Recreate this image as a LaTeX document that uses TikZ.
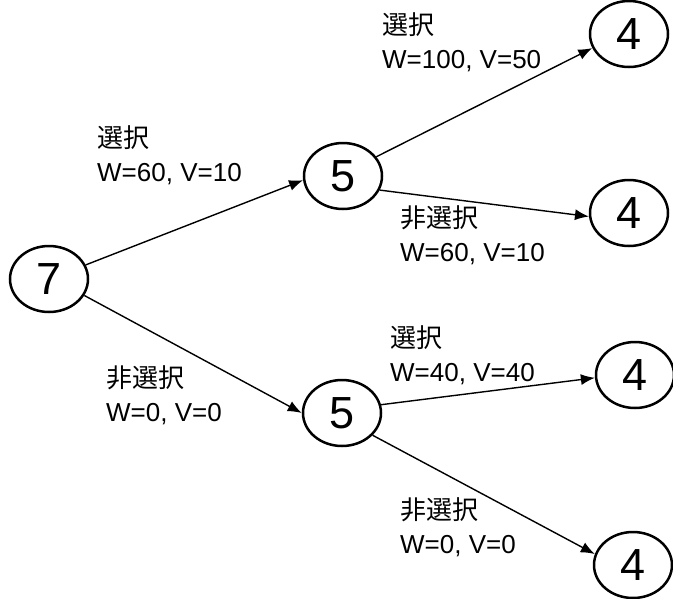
\documentclass[tikz,border=0pt]{standalone}
\usepackage{fontspec}
\setmainfont{Liberation Sans}
\newfontfamily\jpfont{Noto Sans CJK JP}
\usetikzlibrary{shapes.geometric,arrows.meta}
\begin{document}
\begin{tikzpicture}[x=1pt,y=-1pt,
  state/.style={draw,ellipse,line width=2.5pt,minimum width=78pt,minimum height=66pt,inner sep=0pt,font=\fontsize{45}{45}\selectfont},
  edge/.style={line width=1.4pt,-{Latex[length=14pt,width=11pt]}},
  lbl/.style={anchor=north west,inner sep=0pt,align=left,font=\fontsize{26}{34}\selectfont}]
\useasboundingbox (0,0) rectangle (673,598);
\node [state] (n7) at (49,279) {7};
\node [state] (n5a) at (343,176) {5};
\node [state] (n5b) at (342,413) {5};
\node [state] (n4a) at (629,34) {4};
\node [state] (n4b) at (629,213) {4};
\node [state] (n4c) at (635,375) {4};
\node [state] (n4d) at (633,565) {4};
\draw [edge] (n7.21) -- (n5a.186);
\draw [edge] (n7.-25) -- (n5b.180);
\draw [edge] (n5a.30) -- (n4a.201);
\draw [edge] (n5a.-21) -- (n4b.185);
\draw [edge] (n5b.12) -- (n4c.184);
\draw [edge] (n5b.-36) -- (n4d.164);
\node [lbl] (t7a) at (97,125) {{\jpfont 選択}\\W=60, V=10};
\node [lbl] (t7b) at (106,365) {{\jpfont 非選択}\\W=0, V=0};
\node [lbl] (t5aa) at (382,12) {{\jpfont 選択}\\W=100, V=50};
\node [lbl] (t5ab) at (400,205) {{\jpfont 非選択}\\W=60, V=10};
\node [lbl] (t5ba) at (390,325) {{\jpfont 選択}\\W=40, V=40};
\node [lbl] (t5bb) at (400,497) {{\jpfont 非選択}\\W=0, V=0};
\end{tikzpicture}
\end{document}
